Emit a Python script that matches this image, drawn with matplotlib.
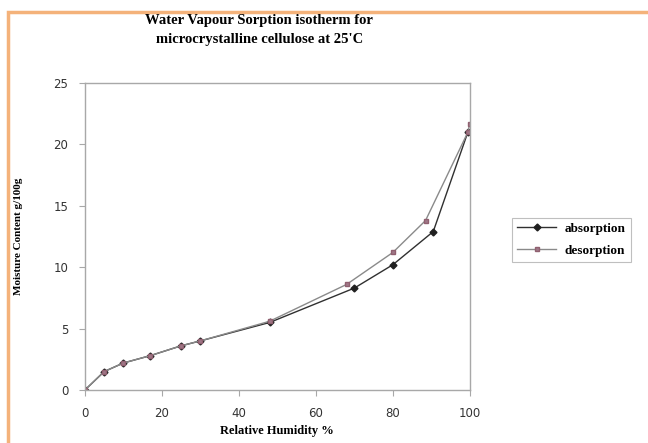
import matplotlib
matplotlib.use("Agg")
import matplotlib.pyplot as plt
from matplotlib.patches import Rectangle

# --- datos ---
rh_abs = [0, 5, 10, 17, 25, 30, 48, 70, 80, 90.5, 99.5]
mc_abs = [0, 1.5, 2.2, 2.8, 3.6, 4.0, 5.5, 8.3, 10.2, 12.9, 21.0]

rh_des = [0, 5, 10, 17, 25, 30, 48, 68, 80, 88.5, 99.5, 100]
mc_des = [0, 1.5, 2.2, 2.8, 3.6, 4.0, 5.6, 8.6, 11.2, 13.8, 21.0, 21.7]

x_ticks = [0, 20, 40, 60, 80, 100]
y_ticks = [0, 5, 10, 15, 20, 25]

fig = plt.figure(figsize=(6.48, 4.43), dpi=100)

# marco naranja (solo visible arriba e izquierda)
fig.patches.append(Rectangle((8 / 648, -0.1), 1.2, 1 - 12 / 443 + 0.1,
                             transform=fig.transFigure, fill=False,
                             edgecolor='#f4b27a', linewidth=2.5))

ax = fig.add_axes([0.131, 0.1196, 0.594, 0.693])

ax.plot(rh_abs, mc_abs, color='#303030', linewidth=1.0, marker='D',
        markersize=3.5, markerfacecolor='#202020', markeredgecolor='#202020',
        label='absorption')
ax.plot(rh_des, mc_des, color='#8a8a8a', linewidth=1.0, marker='s',
        markersize=3.5, markerfacecolor='#a07888', markeredgecolor='#906070',
        label='desorption')

ax.set_xlim(0, 100)
ax.set_ylim(0, 25)
ax.set_xticks(x_ticks)
ax.set_yticks(y_ticks)
for s in ax.spines.values():
    s.set_color('#a8a8a8')
    s.set_linewidth(1.0)
ax.tick_params(direction='out', length=4, color='#a8a8a8',
               labelsize=8.5, labelcolor='#333333', pad=8)

ax.set_xlabel('Relative Humidity %', fontsize=9, fontweight='bold',
              family='Liberation Serif', labelpad=4)
ax.set_ylabel('Moisture Content g/100g', fontsize=8, fontweight='bold',
              family='Liberation Serif', labelpad=22)

fig.text(0.40, 0.968, 'Water Vapour Sorption isotherm for\nmicrocrystalline cellulose at 25\'C',
         ha='center', va='top', fontsize=10.5, fontweight='bold',
         family='Liberation Serif', linespacing=1.55)

leg = fig.legend(loc='upper left', bbox_to_anchor=(505 / 648, 1 - 211 / 443),
                 frameon=True, fancybox=False, borderpad=0.4,
                 handlelength=3.0, labelspacing=0.7, handletextpad=0.6,
                 prop={'family': 'Liberation Serif', 'weight': 'bold', 'size': 9.5})
leg.get_frame().set_edgecolor('#b0b0b0')
leg.get_frame().set_linewidth(0.8)

fig.savefig('out.png', dpi=100)
